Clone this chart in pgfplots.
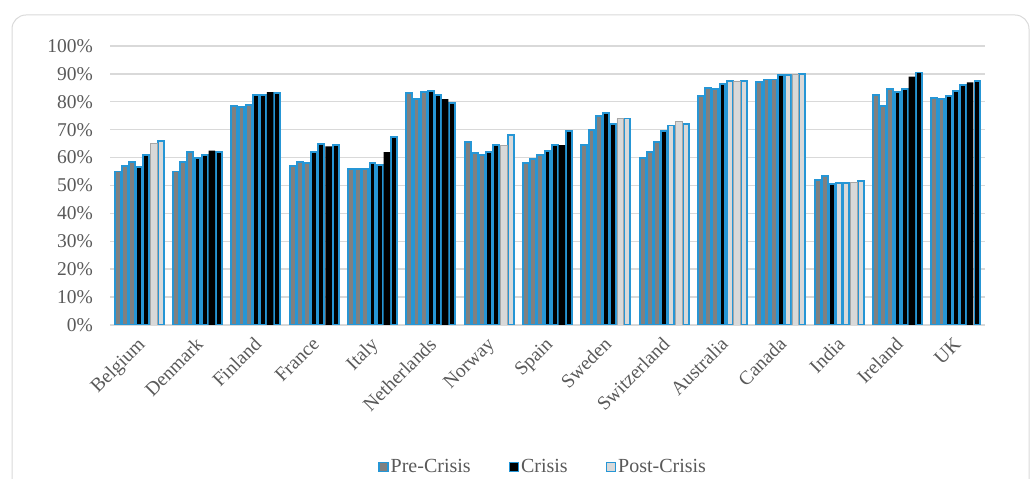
\documentclass[border=0pt]{standalone}
\usepackage{fontspec}
\setmainfont{Liberation Serif}
\usepackage{pgfplots}
\pgfplotsset{compat=1.18}
\usepackage{pgfplotstable}

\definecolor{edge}{RGB}{38,150,213}
\definecolor{pre}{RGB}{128,128,128}
\definecolor{post}{RGB}{217,217,217}
\definecolor{gridc}{RGB}{217,217,217}
\definecolor{txt}{RGB}{89,89,89}

% c = country index, j = year slot (0..6), v = share in %
\pgfplotstableread{
c j v
0 0 55
0 1 57
0 2 58.5
1 0 55
1 1 58.5
1 2 62
2 0 78.5
2 1 78
2 2 79
3 0 57
3 1 58.5
3 2 58
4 0 56
4 1 56
4 2 56
5 0 83
5 1 81
5 2 83.5
6 0 65.5
6 1 61.5
6 2 61
7 0 58
7 1 59.5
7 2 61
8 0 64.5
8 1 70
8 2 75
9 0 60
9 1 62
9 2 65.5
10 0 82
10 1 85
10 2 84.5
11 0 87
11 1 88
11 2 88
12 0 52
12 1 53.5
13 0 82.5
13 1 78.5
13 2 84.5
14 0 81.5
14 1 81
}\pre

\pgfplotstableread{
c j v
0 3 56.5
0 4 61
1 3 60
1 4 61
1 6 62
2 3 82.5
2 4 82.5
2 6 83
3 3 62
3 4 65
3 6 64.5
4 3 58
4 4 57.5
4 6 67.5
5 3 84
5 4 82.5
5 6 79.5
6 3 62
6 4 64.5
7 3 62.5
7 4 64.5
7 6 69.5
8 3 76
8 4 72
9 3 69.5
10 3 86.5
11 3 89.5
12 2 50.5
13 3 83.5
13 4 84.5
13 6 90.5
14 2 82
14 3 84
14 4 86
14 6 87.5
}\crisis

\pgfplotstableread{
c j v
1 5 62.5
2 5 83.5
3 5 64
4 5 62
5 5 81
7 5 64.5
13 5 89
14 5 87
}\crisisback

\pgfplotstableread{
c j v
0 6 66
6 6 68
8 6 74
9 4 71.5
9 6 72
10 4 87.5
10 6 87.5
11 4 89.5
11 6 90
12 3 51
12 4 51
12 6 51.5
}\post

\pgfplotstableread{
c j v
0 5 65
6 5 64.5
8 5 74
9 5 73
10 5 87.5
11 5 90
12 5 51
}\postback

\begin{document}
\begin{tikzpicture}
\path[use as bounding box] (0bp,0bp) rectangle (1033bp,479bp);
\draw[gridc, line width=1bp, rounded corners=14bp] (12bp,-30bp) rectangle (1029bp,464bp);
\begin{axis}[
  at={(110bp,154bp)}, anchor=south west,
  scale only axis, width=875bp, height=279bp,
  xmin=-0.5, xmax=14.5, ymin=0, ymax=100,
  axis line style={draw=none},
  major tick length=0pt,
  ymajorgrids, major grid style={gridc, line width=1.4bp},
  ytick={0,10,...,100},
  yticklabel={\pgfmathprintnumber{\tick}\%},
  xtick={0,...,14},
  xticklabels={Belgium,Denmark,Finland,France,Italy,Netherlands,Norway,Spain,Sweden,Switzerland,Australia,Canada,India,Ireland,UK},
  /pgf/number format/assume math mode=true,
  tick label style={font=\fontsize{19.5bp}{21bp}\selectfont, text=txt},
  yticklabel style={anchor=east, inner sep=0pt, xshift=-17bp},
  xticklabel style={xshift=-3bp, yshift=-11bp, rotate=45, anchor=north east, inner sep=0pt},
  legend style={at={(0.495,-0.509)}, anchor=center, draw=none, fill=none,
    legend columns=3, font=\fontsize{20bp}{21bp}\selectfont, text=txt,
    /tikz/every even column/.append style={column sep=36bp},
    legend cell align=left},
  legend image code/.code={\draw[#1, line width=1.4bp] (0bp,-4.5bp) rectangle (9bp,4.5bp);},
]
\addplot[ybar, bar width=0.100, fill=pre, draw=edge, line width=1.9bp]
  table[x expr=\thisrow{c}+0.123*(\thisrow{j}-3), y=v] {\pre};
\addlegendentry{Pre-Crisis}
\addplot[ybar, bar width=0.100, fill=black, draw=edge, line width=1.9bp]
  table[x expr=\thisrow{c}+0.123*(\thisrow{j}-3), y=v] {\crisis};
\addlegendentry{Crisis}
\addplot[ybar, bar width=0.100, fill=post, draw=edge, line width=1.9bp]
  table[x expr=\thisrow{c}+0.123*(\thisrow{j}-3), y=v] {\post};
\addlegendentry{Post-Crisis}
\addplot[ybar, forget plot, bar width=0.112, fill=black, draw=none]
  table[x expr=\thisrow{c}+0.123*(\thisrow{j}-3), y=v] {\crisisback};
\addplot[ybar, forget plot, bar width=0.112, fill=post, draw=gray!70, line width=0.5bp]
  table[x expr=\thisrow{c}+0.123*(\thisrow{j}-3), y=v] {\postback};
\end{axis}
\end{tikzpicture}
\end{document}
